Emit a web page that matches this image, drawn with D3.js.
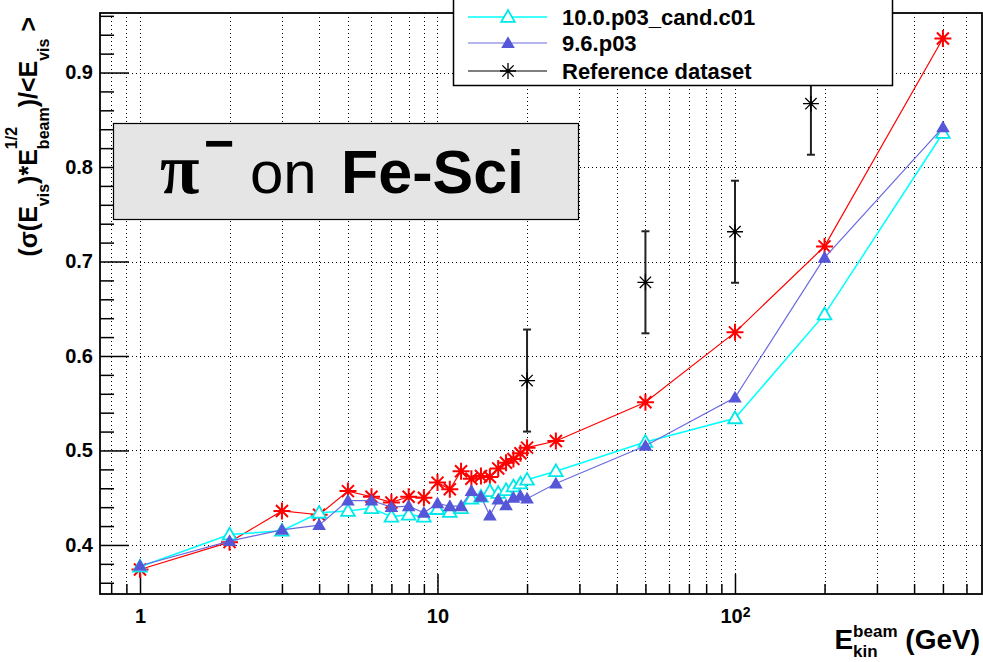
<!DOCTYPE html>
<meta charset="utf-8">
<style>
body { margin: 0; background: #fff; }
svg { display: block; }
text { font-family: "Liberation Sans", Arial, sans-serif; }
</style>
<svg width="983" height="662"></svg>
<script src="https://cdn.jsdelivr.net/npm/d3@7"></script>
<script>

var svg = d3.select("svg");

// axis ranges
var xDomain = [0.7337, 676.6],
    yDomain = [0.3481, 0.963];

var xMajor = [1, 10, 100],
    xMinor = [0.8, 0.9, 2, 3, 4, 5, 6, 7, 8, 9, 20, 30, 40, 50, 60, 70, 80, 90, 200, 300, 400, 500, 600],
    yMajor = [0.4, 0.5, 0.6, 0.7, 0.8, 0.9],
    yMinor = [0.36, 0.38, 0.42, 0.44, 0.46, 0.48, 0.52, 0.54, 0.56, 0.58, 0.62, 0.64, 0.66, 0.68,
              0.72, 0.74, 0.76, 0.78, 0.82, 0.84, 0.86, 0.88, 0.92, 0.94, 0.96];

var energies = [1, 2, 3, 4, 5, 6, 7, 8, 9, 10, 11, 12, 13, 14, 15, 16, 17, 18, 19, 20, 25, 50, 100, 200, 500];
var redVals  = [0.374, 0.403, 0.436, 0.432, 0.457, 0.451, 0.445, 0.451, 0.450, 0.466, 0.459, 0.478, 0.470,
                0.473, 0.472, 0.481, 0.487, 0.491, 0.497, 0.503, 0.510, 0.551, 0.625, 0.716, 0.936];
var cyanVals = [0.377, 0.411, 0.415, 0.434, 0.436, 0.439, 0.430, 0.432, 0.430, 0.438, 0.435, 0.439, 0.449,
                0.451, 0.457, 0.455, 0.458, 0.462, 0.465, 0.469, 0.478, 0.509, 0.534, 0.644, 0.836];
var blueVals = [0.378, 0.404, 0.416, 0.421, 0.447, 0.447, 0.440, 0.441, 0.434, 0.444, 0.441, 0.441, 0.457,
                0.451, 0.431, 0.448, 0.442, 0.450, 0.452, 0.449, 0.465, 0.505, 0.556, 0.704, 0.842];

var refEnergies = [20, 50, 100, 180],
    refVals     = [0.574, 0.678, 0.7315, 0.867],
    refErr      = [0.054, 0.054, 0.054, 0.054];

var legendLabels = ["10.0.p03_cand.c01", "9.6.p03", "Reference dataset"];

var fL = 100, fR = 982, fT = 13, fB = 594;

var x = d3.scaleLog().domain(xDomain).range([fL, fR]),
    y = d3.scaleLinear().domain(yDomain).range([fB, fT]);

// grid
var grid = svg.append("g")
    .attr("stroke", "#000")
    .attr("stroke-width", 1)
    .attr("stroke-dasharray", "1,3");
grid.selectAll(".gx").data(xMajor.concat(xMinor)).enter().append("line")
    .attr("x1", function(d) { return Math.round(x(d)) + 0.5; })
    .attr("x2", function(d) { return Math.round(x(d)) + 0.5; })
    .attr("y1", fT).attr("y2", fB);
grid.selectAll(".gy").data(yMajor).enter().append("line")
    .attr("y1", function(d) { return Math.round(y(d)) + 0.5; })
    .attr("y2", function(d) { return Math.round(y(d)) + 0.5; })
    .attr("x1", fL).attr("x2", fR);

// axes, ticks pointing inside
function styleAxis(g) {
  g.attr("font-size", null).attr("font-family", null);
  g.select(".domain").remove();
  g.selectAll("line").attr("stroke", "#000").attr("stroke-width", 1.5);
  g.selectAll("text").attr("fill", "#000")
      .style("font-size", "20px").style("font-weight", "bold");
}

svg.append("g")
    .attr("transform", "translate(0," + fB + ")")
    .call(d3.axisBottom(x).tickValues(xMinor).tickSize(-10).tickFormat(""))
    .call(styleAxis);

var xAx = svg.append("g")
    .attr("transform", "translate(0," + fB + ")")
    .call(d3.axisBottom(x).tickValues(xMajor).tickSize(-20).tickPadding(15).tickFormat(function(d) {
      return d >= 100 ? "10" : String(d);
    }))
    .call(styleAxis);
xAx.selectAll("text").filter(function(d) { return d >= 100; })
    .append("tspan").attr("dy", "-0.45em").style("font-size", "14px").text(function(d) {
      return String(Math.round(Math.log10(d)));
    });

svg.append("g")
    .attr("transform", "translate(" + fL + ",0)")
    .call(d3.axisLeft(y).tickValues(yMinor).tickSize(-14).tickFormat(""))
    .call(styleAxis);
svg.append("g")
    .attr("transform", "translate(" + fL + ",0)")
    .call(d3.axisLeft(y).tickValues(yMajor).tickSize(-29).tickPadding(7).tickFormat(d3.format(".1f")))
    .call(styleAxis);

// frame
svg.append("rect")
    .attr("x", fL).attr("y", fT)
    .attr("width", fR - fL).attr("height", fB - fT)
    .attr("fill", "none").attr("stroke", "#000").attr("stroke-width", 1.8);

// markers
function starPath(r) {
  var d = r * 0.7071;
  return "M" + (-r) + ",0H" + r + "M0," + (-r) + "V" + r +
         "M" + (-d) + "," + (-d) + "L" + d + "," + d +
         "M" + (-d) + "," + d + "L" + d + "," + (-d);
}
var triangle = d3.symbol().type(d3.symbolTriangle).size(80)();

var line = d3.line()
    .x(function(d) { return x(d[0]); })
    .y(function(d) { return y(d[1]); });

var plot = svg.append("g");

function series(vals, color, width) {
  var pts = energies.map(function(e, i) { return [e, vals[i]]; });
  plot.append("path").datum(pts)
      .attr("d", line).attr("fill", "none")
      .attr("stroke", color).attr("stroke-width", width);
  return pts;
}

var redPts = series(redVals, "#ff0000", 1.2);
plot.append("g").selectAll("path").data(redPts).enter().append("path")
    .attr("transform", function(d) { return "translate(" + x(d[0]) + "," + y(d[1]) + ")"; })
    .attr("d", starPath(8.5)).attr("stroke", "#ff0000").attr("stroke-width", 2).attr("fill", "none");

var cyanPts = series(cyanVals, "#00ffff", 1.5);
plot.append("g").selectAll("path").data(cyanPts).enter().append("path")
    .attr("transform", function(d) { return "translate(" + x(d[0]) + "," + (y(d[1]) + 1) + ")"; })
    .attr("d", triangle).attr("stroke", "#00e8e8").attr("stroke-width", 1.8).attr("fill", "#fff");

var bluePts = series(blueVals, "#6a6ae0", 1.2);
plot.append("g").selectAll("path").data(bluePts).enter().append("path")
    .attr("transform", function(d) { return "translate(" + x(d[0]) + "," + (y(d[1]) + 1) + ")"; })
    .attr("d", triangle).attr("fill", "#5656d8").attr("stroke", "none");

// reference dataset with error bars
var ref = plot.append("g").selectAll("g").data(refEnergies).enter().append("g");
ref.append("line")
    .attr("x1", function(d) { return x(d); }).attr("x2", function(d) { return x(d); })
    .attr("y1", function(d, i) { return y(refVals[i] + refErr[i]); })
    .attr("y2", function(d, i) { return y(refVals[i] - refErr[i]); })
    .attr("stroke", "#222").attr("stroke-width", 2);
[1, -1].forEach(function(s) {
  ref.append("line")
      .attr("x1", function(d) { return x(d) - 4; }).attr("x2", function(d) { return x(d) + 4; })
      .attr("y1", function(d, i) { return y(refVals[i] + s * refErr[i]); })
      .attr("y2", function(d, i) { return y(refVals[i] + s * refErr[i]); })
      .attr("stroke", "#222").attr("stroke-width", 2);
});
ref.append("path")
    .attr("transform", function(d, i) { return "translate(" + x(d) + "," + y(refVals[i]) + ")"; })
    .attr("d", starPath(8)).attr("stroke", "#000").attr("stroke-width", 1.3).attr("fill", "none");

// legend
var leg = svg.append("g");
leg.append("rect").attr("x", 453.5).attr("y", -30).attr("width", 439).attr("height", 115.5)
    .attr("fill", "#fff").attr("stroke", "#000").attr("stroke-width", 1.5);
var legRows = [17, 43, 71];
var legColors = ["#00ffff", "#6a6ae0", "#000"];
legRows.forEach(function(ry, i) {
  leg.append("line").attr("x1", 468).attr("x2", 547).attr("y1", ry).attr("y2", ry)
      .attr("stroke", legColors[i]).attr("stroke-width", i === 0 ? 1.5 : 1.2);
  leg.append("text").attr("x", 562).attr("y", ry + 7.5)
      .style("font-size", "22px").style("font-weight", "bold").text(legendLabels[i]);
});
leg.append("path").attr("transform", "translate(508," + (legRows[0] + 1) + ")")
    .attr("d", triangle).attr("stroke", "#00e8e8").attr("stroke-width", 1.8).attr("fill", "#fff");
leg.append("path").attr("transform", "translate(508," + (legRows[1] + 1) + ")")
    .attr("d", triangle).attr("fill", "#5656d8");
leg.append("path").attr("transform", "translate(508," + legRows[2] + ")")
    .attr("d", starPath(8)).attr("stroke", "#000").attr("stroke-width", 1.3).attr("fill", "none");

// title box
var tb = svg.append("g");
tb.append("rect").attr("x", 113.5).attr("y", 123.5).attr("width", 465).attr("height", 96)
    .attr("fill", "#e5e5e5").attr("stroke", "#000").attr("stroke-width", 1.2);
tb.append("text").attr("x", 160).attr("y", 193)
    .style("font-family", '"Liberation Serif", serif').style("font-weight", "bold")
    .style("font-size", "72px").text("π");
tb.append("text").attr("x", 204).attr("y", 161)
    .style("font-weight", "bold").style("font-size", "52px").text("−");
tb.append("text").attr("x", 250).attr("y", 193)
    .style("font-size", "60px").text("on");
tb.append("text").attr("x", 341).attr("y", 193)
    .style("font-size", "61px").style("font-weight", "bold").text("Fe-Sci");

// axis titles built piece by piece (ROOT style sub/superscripts)
function rich(g, parts) {
  var cx = 0, prevX = 0, prevW = 0;
  parts.forEach(function(p) {
    var t = g.append("text")
        .attr("x", p.stack ? prevX : cx).attr("y", p.dy || 0)
        .style("font-size", p.size + "px").style("font-weight", "bold")
        .style("white-space", "pre").text(p.t);
    var w = t.node().getComputedTextLength();
    if (p.stack) { cx = prevX + Math.max(prevW, w); }
    else { prevX = cx; prevW = w; cx += w; }
  });
  return cx;
}

var yTitle = svg.append("g");
var yLen = rich(yTitle, [
  {t: "(σ(E", size: 25}, {t: "vis", size: 16, dy: 12},
  {t: ")*E", size: 25}, {t: "1/2", size: 16, dy: -20}, {t: "beam", size: 16, dy: 12, stack: true},
  {t: ")/<E", size: 25}, {t: "vis", size: 16, dy: 12}, {t: "\u00a0>", size: 25}
]);
yTitle.attr("transform", "translate(37," + (17 + yLen) + ") rotate(-90)");

var xTitle = svg.append("g");
var xLen = rich(xTitle, [
  {t: "E", size: 28}, {t: "beam", size: 17, dy: -12}, {t: "kin", size: 17, dy: 8, stack: true},
  {t: "\u00a0(GeV)", size: 28}
]);
xTitle.attr("transform", "translate(" + (980 - xLen) + ",649)");

</script>
